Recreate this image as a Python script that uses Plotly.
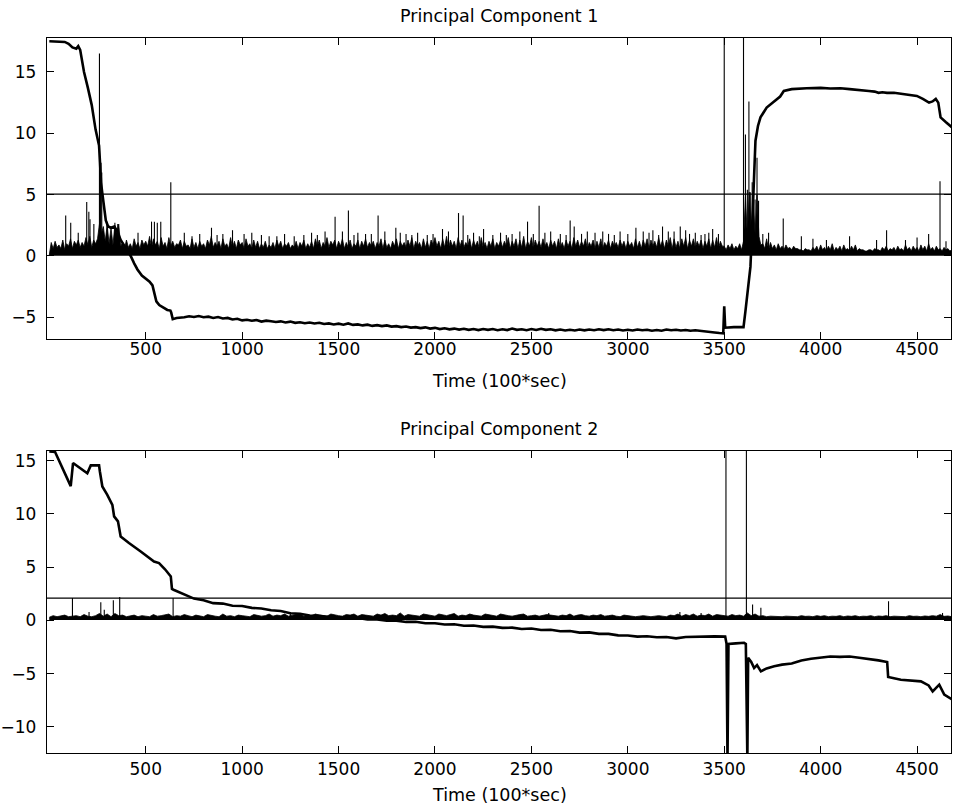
import plotly.graph_objects as go

# ---------------- Principal Component 1 ----------------
pc1_t = [0, 40, 80, 100, 120, 140, 150, 160, 180, 200, 220, 240, 250, 258, 263, 268, 275, 285, 293,
         305, 320, 336, 350, 370, 400, 422, 440, 457, 480, 509, 520, 535, 543, 555, 570, 590, 612,
         628, 632, 640, 660,
         700, 725, 750, 775, 800, 825, 850, 875, 900, 925, 950, 975, 1000, 1025, 1050, 1075, 1100,
         1125, 1150, 1175, 1200, 1225, 1250, 1275, 1300, 1325, 1350, 1375, 1400, 1425, 1450, 1475,
         1500, 1525, 1550, 1575, 1600, 1625, 1650, 1675, 1700, 1725, 1750, 1775, 1800, 1825, 1850,
         1875, 1900, 1925, 1950, 1975, 2000, 2025, 2050, 2075, 2100, 2125, 2150, 2175, 2200, 2225,
         2250, 2275, 2300, 2325, 2350, 2375, 2400, 2425, 2450, 2475, 2500, 2525, 2550, 2575, 2600,
         2625, 2650, 2675, 2700, 2725, 2750, 2775, 2800, 2825, 2850, 2875, 2900, 2925, 2950, 2975,
         3000, 3025, 3050, 3075, 3100, 3125, 3150, 3175, 3200, 3225, 3250, 3275, 3300, 3325, 3350,
         3375, 3400, 3425, 3450, 3475, 3495,
         3500, 3505, 3550, 3600, 3610, 3625, 3636, 3645, 3652, 3662, 3675, 3688, 3720, 3757, 3790,
         3809, 3850, 3928, 4000, 4050, 4103, 4150, 4200, 4250, 4280, 4300, 4320, 4344, 4380, 4420,
         4460, 4499, 4530, 4562, 4580, 4597, 4610, 4622, 4650, 4680]
pc1_v = [17.5, 17.5, 17.45, 17.3, 17.0, 16.9, 17.1, 16.8, 15.0, 13.7, 12.3, 10.3, 9.4, 9.0, 7.6,
         6.0, 5.1, 3.6, 2.9, 2.4, 2.3, 2.4, 2.1, 1.3, 0.6, 0.0, -0.6, -1.1, -1.6, -1.95, -2.1, -2.4,
         -3.0, -3.7, -4.0, -4.2, -4.4, -4.45, -4.6, -5.15, -5.05,
         -5.0, -4.92, -4.97, -4.9, -5.0, -4.95, -5.05, -4.98, -5.1, -5.05, -5.18, -5.12, -5.25,
         -5.2, -5.28, -5.22, -5.35, -5.27, -5.32, -5.38, -5.33, -5.42, -5.35, -5.45, -5.4, -5.48,
         -5.42, -5.5, -5.45, -5.55, -5.5, -5.58, -5.52, -5.6, -5.5, -5.62, -5.58, -5.66, -5.6,
         -5.7, -5.64, -5.72, -5.66, -5.76, -5.72, -5.8, -5.75, -5.84, -5.8, -5.88, -5.82, -5.92,
         -5.86, -5.96, -5.9, -5.98, -5.92, -6.0, -5.94, -6.02, -5.96, -6.04, -5.95, -6.02, -5.96,
         -6.05, -5.98, -6.04, -5.92, -6.02, -5.97, -6.05, -5.96, -6.03, -5.94, -6.02, -5.98, -6.06,
         -6.0, -6.08, -6.02, -6.07, -6.0, -6.06, -5.99, -6.05, -5.98, -6.04, -5.97, -6.05, -6.0,
         -6.07, -6.02, -6.08, -6.0, -6.06, -6.02, -6.1, -6.04, -6.09, -6.0, -6.06, -6.02, -6.08,
         -6.04, -6.1, -6.06, -6.12, -6.14, -6.2, -6.24, -6.28, -6.3,
         -4.1, -5.85, -5.8, -5.8, -4.5, -2.5, -0.87, 2.5, 6.0, 9.4, 10.6, 11.3, 12.1, 12.6, 13.0,
         13.45, 13.6, 13.67, 13.7, 13.65, 13.67, 13.6, 13.55, 13.45, 13.4, 13.3, 13.35, 13.3, 13.3,
         13.2, 13.15, 13.05, 12.8, 12.5, 12.6, 12.8, 12.5, 11.3, 10.9, 10.5]

# upper edge of the dense noise band (one value every 10 time units, starting at t = 0)
noise1_step = 10
noise1_band = [
    0.1, 1.1, 0.6, 1.2, 0.7, 0.9, 0.6, 1.3, 0.5, 1.0,
    0.8, 1.4, 0.6, 1.2, 0.9, 1.3, 0.7, 1.1, 0.8, 1.5,
    0.9, 1.6, 0.7, 1.3, 1.0, 1.4, 2.6, 1.8, 2.4, 1.2,
    2.5, 1.0, 2.3, 0.9, 2.5, 1.9, 2.6, 0.8, 1.1, 0.6,
    1.3, 0.7, 1.0, 0.6, 1.4, 0.8, 1.1, 0.6, 1.3, 0.9,
    1.2, 0.8, 1.6, 0.7, 1.4, 0.9, 1.2, 0.6, 1.5, 0.8,
    1.1, 0.6, 1.5, 0.8, 1.2, 0.7, 1.0, 0.9, 1.3, 0.6,
    1.2, 0.8, 0.9, 0.6, 1.4, 0.7, 1.1, 0.6, 1.2, 0.8,
    1.0, 0.6, 1.3, 0.9, 1.6, 0.7, 1.1, 0.8, 1.2, 0.6,
    1.4, 0.8, 1.0, 0.6, 1.5, 0.7, 1.2, 0.6, 1.3, 0.9,
    1.1, 0.6, 1.4, 0.8, 1.0, 0.6, 1.3, 0.7, 1.2, 0.6,
    1.0, 0.7, 1.2, 0.6, 0.9, 0.7, 1.1, 0.6, 1.3, 0.8,
    1.2, 0.6, 1.0, 0.8, 1.1, 0.6, 0.9, 0.7, 1.2, 0.6,
    1.1, 0.8, 1.3, 0.6, 1.0, 0.7, 1.2, 0.6, 1.4, 0.8,
    1.3, 0.6, 1.1, 0.8, 1.5, 0.7, 1.2, 0.9, 1.3, 0.6,
    1.2, 0.8, 1.4, 0.6, 1.1, 0.7, 1.3, 0.6, 1.0, 0.8,
    1.3, 0.6, 1.2, 0.8, 1.4, 0.7, 1.1, 0.8, 1.2, 0.6,
    1.1, 0.8, 1.4, 0.6, 1.3, 0.7, 1.0, 0.6, 1.2, 0.8,
    1.4, 0.6, 1.2, 0.8, 1.1, 0.7, 1.3, 0.8, 1.5, 0.6,
    1.2, 0.8, 1.1, 0.6, 1.4, 0.7, 1.2, 0.6, 1.3, 0.9,
    1.5, 0.8, 1.2, 0.6, 1.4, 0.7, 1.6, 0.6, 1.3, 0.8,
    1.2, 0.6, 1.5, 0.8, 1.3, 0.7, 1.1, 0.8, 1.4, 0.6,
    1.3, 0.8, 1.2, 0.6, 1.5, 0.7, 1.1, 0.6, 1.2, 0.8,
    1.4, 0.6, 1.1, 0.8, 1.3, 0.7, 1.2, 0.8, 1.5, 0.6,
    1.2, 0.8, 1.4, 0.6, 1.3, 0.7, 1.6, 0.6, 1.2, 0.8,
    1.5, 0.6, 1.3, 0.8, 1.2, 0.7, 1.4, 0.8, 1.1, 0.6,
    1.3, 0.8, 1.2, 0.6, 1.4, 0.7, 1.1, 0.6, 1.3, 0.8,
    1.2, 0.6, 1.5, 0.8, 1.3, 0.7, 1.2, 0.8, 1.4, 0.6,
    1.1, 0.8, 1.3, 0.6, 1.2, 0.7, 1.4, 0.6, 1.1, 0.8,
    1.3, 0.6, 1.2, 0.8, 1.1, 0.7, 1.3, 0.8, 1.2, 0.6,
    1.2, 0.8, 1.1, 0.6, 1.4, 0.7, 1.2, 0.6, 1.3, 0.8,
    1.4, 0.6, 1.3, 0.8, 1.2, 0.7, 1.5, 0.8, 1.3, 0.6,
    1.3, 0.8, 1.5, 0.6, 1.4, 0.7, 1.2, 0.6, 1.4, 0.8,
    1.5, 0.6, 1.3, 0.8, 1.4, 0.7, 1.2, 0.8, 1.3, 0.6,
    1.2, 0.8, 1.4, 0.6, 1.3, 0.7, 1.5, 0.6, 1.2, 0.8,
    0.8, 0.5, 0.9, 0.6, 1.0, 0.5, 0.8, 0.6, 1.0, 0.5,
    1.2, 4.8, 1.6, 5.2, 2.0, 4.6, 1.8, 5.0, 1.6, 0.9,
    1.0, 0.6, 1.4, 0.5, 1.1, 0.6, 0.9, 0.5, 1.0, 0.6,
    0.8, 0.5, 0.9, 0.6, 0.7, 0.5, 0.8, 0.6, 0.6, 0.5,
    0.5, 0.4, 0.6, 0.5, 0.5, 0.4, 0.7, 0.5, 0.8, 0.4,
    0.9, 0.5, 0.7, 0.4, 0.8, 0.5, 1.0, 0.4, 0.7, 0.5,
    0.8, 0.4, 0.9, 0.5, 0.6, 0.4, 0.8, 0.5, 0.9, 0.4,
    0.6, 0.5, 0.5, 0.4, 0.4, 0.5, 0.5, 0.4, 0.6, 0.5,
    0.5, 0.4, 0.7, 0.5, 0.8, 0.4, 0.6, 0.5, 0.7, 0.4,
    0.8, 0.5, 0.6, 0.4, 0.9, 0.5, 0.7, 0.4, 0.8, 0.5,
    0.7, 0.4, 0.9, 0.5, 0.8, 0.4, 1.0, 0.5, 0.7, 0.4,
    0.8, 0.5, 0.6, 0.4, 0.7, 0.5, 0.6, 0.4, 0.5, 0.5,
]
noise1_floor = 0.08
spike1_t = [85, 111, 150, 194, 205, 211, 231, 260, 265, 268, 272, 300, 340, 355, 460, 530, 545, 560,
            578, 630, 700, 740, 780, 841, 870, 900, 950, 1010, 1050, 1100, 1140, 1180, 1220, 1270,
            1320, 1360, 1390, 1430, 1482, 1520, 1551, 1580, 1600, 1640, 1670, 1705, 1740, 1797,
            1820, 1850, 1880, 1910, 1960, 1990, 2039, 2070, 2122, 2146, 2170, 2200, 2230, 2252,
            2300, 2340, 2370, 2400, 2440, 2480, 2510, 2540, 2570, 2600, 2650, 2680, 2701, 2722,
            2760, 2790, 2830, 2870, 2900, 2930, 2960, 3000, 3042, 3080, 3110, 3130, 3160, 3180,
            3210, 3240, 3272, 3300, 3320, 3350, 3380, 3400, 3420, 3440, 3470, 3500, 3600, 3610,
            3620, 3628, 3635, 3645, 3650, 3660, 3670, 3678, 3700, 3730, 3806, 3900, 3960, 4030,
            4150, 4290, 4342, 4440, 4500, 4560, 4619, 4650]
spike1_h = [3.3, 2.7, 1.9, 4.4, 3.6, 3.0, 2.6, 16.5, 7.6, 7.6, 6.8, 2.8, 2.7, 2.6, 1.9, 2.8, 2.8, 2.7,
            2.8, 6.0, 1.9, 1.6, 1.8, 2.3, 1.7, 1.8, 2.1, 1.8, 1.9, 1.7, 1.6, 1.6, 1.8, 1.6,
            1.7, 1.9, 1.7, 2.0, 3.2, 2.0, 3.7, 1.7, 1.9, 1.8, 1.8, 3.3, 2.0, 2.3,
            1.9, 1.8, 1.7, 1.9, 1.7, 1.8, 2.2, 2.0, 3.5, 3.3, 1.7, 1.9, 1.6, 2.2,
            1.7, 1.9, 1.7, 1.8, 2.0, 2.8, 1.8, 4.1, 1.9, 2.0, 1.8, 1.7, 2.9, 2.4,
            1.8, 2.0, 1.9, 2.0, 1.8, 1.7, 2.0, 1.8, 2.3, 2.0, 1.9, 2.1, 1.7, 2.4,
            2.0, 2.0, 2.4, 2.1, 1.8, 1.9, 1.7, 1.8, 1.9, 2.2, 1.8, 30.0, 30.0, 9.9,
            5.4, 12.6, 5.2, 6.0, 5.0, 4.6, 8.0, 4.5, 1.8, 1.9, 3.05, 1.6, 1.4, 1.3,
            1.6, 1.3, 2.1, 1.3, 1.5, 1.8, 6.1, 1.2]
thr1 = 5.05

# ---------------- Principal Component 2 ----------------
pc2_t = [0, 30, 40, 111, 123, 160, 197, 215, 258, 262, 275, 300, 327, 336, 350, 356, 370, 413, 474,
         520, 543, 569, 600, 630, 636, 644,
         700, 750, 800, 850, 900, 950, 1000, 1050, 1100, 1150, 1200, 1250, 1300, 1350, 1400, 1450,
         1500, 1550, 1600, 1650, 1700, 1750, 1800, 1850, 1900, 1950, 2000, 2050, 2100, 2150, 2200,
         2250, 2300, 2350, 2400, 2450, 2500, 2550, 2600, 2650, 2700, 2750, 2800, 2850, 2900, 2950,
         3000, 3050, 3100, 3150, 3200, 3250, 3300, 3350, 3400, 3450, 3505,
         3512, 3517, 3522, 3560, 3603, 3612, 3620, 3624, 3640, 3655, 3670, 3690, 3720, 3759, 3800,
         3850, 3900, 3950, 4000, 4050, 4100, 4150, 4200, 4250, 4300, 4345, 4350, 4416, 4520, 4560,
         4581, 4615, 4630, 4641, 4680]
pc2_v = [15.85, 15.8, 15.4, 12.6, 14.77, 14.3, 13.8, 14.55, 14.55, 14.0, 12.57, 11.8, 10.85, 9.76,
         9.5, 9.3, 7.88, 7.26, 6.47, 5.8, 5.53, 5.38, 4.8, 4.13, 2.95, 2.88,
         2.45, 2.05, 1.9, 1.62, 1.58, 1.38, 1.35, 1.18, 1.12, 0.95, 0.88, 0.68, 0.62, 0.46, 0.44,
         0.32, 0.3, 0.2, 0.22, 0.1, 0.1, -0.02, -0.02, -0.14, -0.12, -0.26, -0.26, -0.38, -0.36,
         -0.5, -0.48, -0.6, -0.58, -0.7, -0.68, -0.8, -0.76, -0.9, -0.88, -1.02, -1.0, -1.14,
         -1.12, -1.26, -1.26, -1.4, -1.42, -1.52, -1.48, -1.58, -1.56, -1.68, -1.55, -1.52, -1.46,
         -1.5, -1.52,
         -2.2, -13.0, -2.2, -2.15, -2.1, -2.2, -13.0, -3.5, -3.9, -4.47, -4.2, -4.78, -4.5, -4.3,
         -4.15, -4.05, -3.75, -3.6, -3.5, -3.38, -3.42, -3.38, -3.5, -3.6, -3.75, -3.9, -5.3, -5.56,
         -5.72, -6.1, -6.66, -6.03, -6.5, -6.97, -7.4]

noise2_step = 20
noise2_band = [
    0.3, 0.45, 0.35, 0.4, 0.5, 0.35, 0.4, 0.45, 0.35, 0.55,
    0.4, 0.35, 0.45, 0.65, 0.4, 0.6, 0.35, 0.65, 0.45, 0.5,
    0.35, 0.4, 0.5, 0.35, 0.45, 0.4, 0.35, 0.55, 0.4, 0.45,
    0.5, 0.6, 0.35, 0.45, 0.4, 0.55, 0.45, 0.35, 0.5, 0.4,
    0.35, 0.55, 0.45, 0.4, 0.35, 0.6, 0.4, 0.45, 0.35, 0.5,
    0.45, 0.4, 0.35, 0.55, 0.5, 0.4, 0.45, 0.6, 0.4, 0.5,
    0.45, 0.6, 0.4, 0.5, 0.55, 0.65, 0.4, 0.5, 0.45, 0.6,
    0.5, 0.45, 0.4, 0.6, 0.5, 0.45, 0.4, 0.55, 0.5, 0.6,
    0.4, 0.55, 0.5, 0.45, 0.4, 0.6, 0.5, 0.65, 0.45, 0.5,
    0.45, 0.7, 0.4, 0.55, 0.5, 0.45, 0.4, 0.6, 0.55, 0.5,
    0.4, 0.6, 0.5, 0.45, 0.55, 0.65, 0.4, 0.5, 0.45, 0.6,
    0.5, 0.45, 0.4, 0.6, 0.55, 0.5, 0.4, 0.6, 0.5, 0.45,
    0.4, 0.5, 0.55, 0.6, 0.4, 0.45, 0.5, 0.4, 0.45, 0.55,
    0.5, 0.45, 0.4, 0.5, 0.45, 0.6, 0.4, 0.5, 0.55, 0.45,
    0.4, 0.5, 0.45, 0.55, 0.4, 0.45, 0.5, 0.4, 0.35, 0.5,
    0.45, 0.4, 0.35, 0.4, 0.45, 0.4, 0.35, 0.4, 0.45, 0.4,
    0.35, 0.5, 0.45, 0.6, 0.4, 0.55, 0.45, 0.6, 0.4, 0.5,
    0.45, 0.6, 0.4, 0.55, 0.5, 0.45, 0.4, 0.55, 0.45, 0.5,
    0.4, 0.7, 0.45, 0.6, 0.4, 0.45, 0.35, 0.4, 0.38, 0.4,
    0.35, 0.4, 0.38, 0.42, 0.35, 0.45, 0.38, 0.4, 0.35, 0.45,
    0.38, 0.45, 0.35, 0.4, 0.38, 0.45, 0.35, 0.42, 0.38, 0.45,
    0.35, 0.4, 0.38, 0.45, 0.35, 0.42, 0.38, 0.45, 0.35, 0.4,
    0.38, 0.42, 0.35, 0.45, 0.38, 0.4, 0.35, 0.42, 0.38, 0.45,
    0.4, 0.55, 0.38, 0.42, 0.35, 0.4, 0.38, 0.42, 0.35, 0.4,
]
noise2_floor = 0.1
spike2_t = [120, 206, 267, 285, 332, 365, 642, 1250, 2590, 3270, 3380, 3509, 3615, 3647, 3690, 4352, 4632]
spike2_h = [2.1, 0.8, 1.7, 1.0, 1.9, 2.2, 2.1, 0.8, 0.7, 0.8, 0.7, 30.0, 30.0, 1.5, 1.2, 1.8, 0.7]
thr2 = 2.1

x_ticks = [500, 1000, 1500, 2000, 2500, 3000, 3500, 4000, 4500]
y1_ticks = [-5, 0, 5, 10, 15]
y2_ticks = [-10, -5, 0, 5, 10, 15]
x_range = [-12, 4676]
y1_range = [-6.77, 17.77]
y2_range = [-12.44, 15.9]

title1 = "Principal Component 1"
title2 = "Principal Component 2"
xlabel = "Time (100*sec)"

FONT = "DejaVu Sans"
BLACK = "#000000"


def band_xy(values, step):
    return [i * step for i in range(len(values))], values


def spikes_xy(ts, hs, base):
    xs, ys = [], []
    for t, h in zip(ts, hs):
        xs += [t, t, None]
        ys += [base, h, None]
    return xs, ys


fig = go.Figure()


def add_panel(xa, ya, pc_t, pc_v, band, step, floor, sp_t, sp_h, thr):
    bx, by = band_xy(band, step)
    # floor of the noise band, then the band's jagged upper edge filled down to it
    fig.add_trace(go.Scatter(x=bx, y=[floor] * len(bx), mode="lines",
                             line=dict(color=BLACK, width=1.5),
                             xaxis=xa, yaxis=ya, showlegend=False, hoverinfo="skip"))
    fig.add_trace(go.Scatter(x=bx, y=by, mode="lines", line=dict(color=BLACK, width=0.8),
                             fill="tonexty", fillcolor=BLACK,
                             xaxis=xa, yaxis=ya, showlegend=False, hoverinfo="skip"))
    sx, sy = spikes_xy(sp_t, sp_h, floor)
    fig.add_trace(go.Scatter(x=sx, y=sy, mode="lines", line=dict(color=BLACK, width=1.1),
                             xaxis=xa, yaxis=ya, showlegend=False, hoverinfo="skip"))
    fig.add_trace(go.Scatter(x=x_range, y=[thr, thr], mode="lines", line=dict(color=BLACK, width=1.2),
                             xaxis=xa, yaxis=ya, showlegend=False, hoverinfo="skip"))
    fig.add_trace(go.Scatter(x=pc_t, y=pc_v, mode="lines", line=dict(color=BLACK, width=2.6),
                             xaxis=xa, yaxis=ya, showlegend=False, hoverinfo="skip"))


add_panel("x", "y", pc1_t, pc1_v, noise1_band, noise1_step, noise1_floor, spike1_t, spike1_h, thr1)
add_panel("x2", "y2", pc2_t, pc2_v, noise2_band, noise2_step, noise2_floor, spike2_t, spike2_h, thr2)

axis_common = dict(showline=True, linecolor=BLACK, linewidth=1.3, mirror="ticks", ticks="inside",
                   ticklen=7, tickwidth=1.3, tickcolor=BLACK, showgrid=False, zeroline=False,
                   tickfont=dict(family=FONT, size=17, color=BLACK))

fig.update_layout(
    width=953, height=805,
    margin=dict(l=46, r=1, t=38, b=52),
    paper_bgcolor="white", plot_bgcolor="white",
    xaxis=dict(domain=[0, 1], range=x_range, tickvals=x_ticks, anchor="y",
               ticklabelstandoff=-6, **axis_common),
    yaxis=dict(domain=[0.579, 1], range=y1_range, tickvals=y1_ticks, anchor="x",
               ticklabelstandoff=6, **axis_common),
    xaxis2=dict(domain=[0, 1], range=x_range, tickvals=x_ticks, anchor="y2", **axis_common),
    yaxis2=dict(domain=[0, 0.4224], range=y2_range, tickvals=y2_ticks, anchor="x2",
                ticklabelstandoff=6, **axis_common),
    annotations=[
        dict(text=title1, x=0.5, y=1.0308, xref="paper", yref="paper", showarrow=False,
             xanchor="center", yanchor="middle", font=dict(family=FONT, size=17.5, color=BLACK)),
        dict(text=xlabel, x=0.5, y=0.5203, xref="paper", yref="paper", showarrow=False,
             xanchor="center", yanchor="middle", font=dict(family=FONT, size=17.5, color=BLACK)),
        dict(text=title2, x=0.5, y=0.4531, xref="paper", yref="paper", showarrow=False,
             xanchor="center", yanchor="middle", font=dict(family=FONT, size=17.5, color=BLACK)),
        dict(text=xlabel, x=0.5, y=-0.0587, xref="paper", yref="paper", showarrow=False,
             xanchor="center", yanchor="middle", font=dict(family=FONT, size=17.5, color=BLACK)),
    ],
)

fig.write_html("out.html")
